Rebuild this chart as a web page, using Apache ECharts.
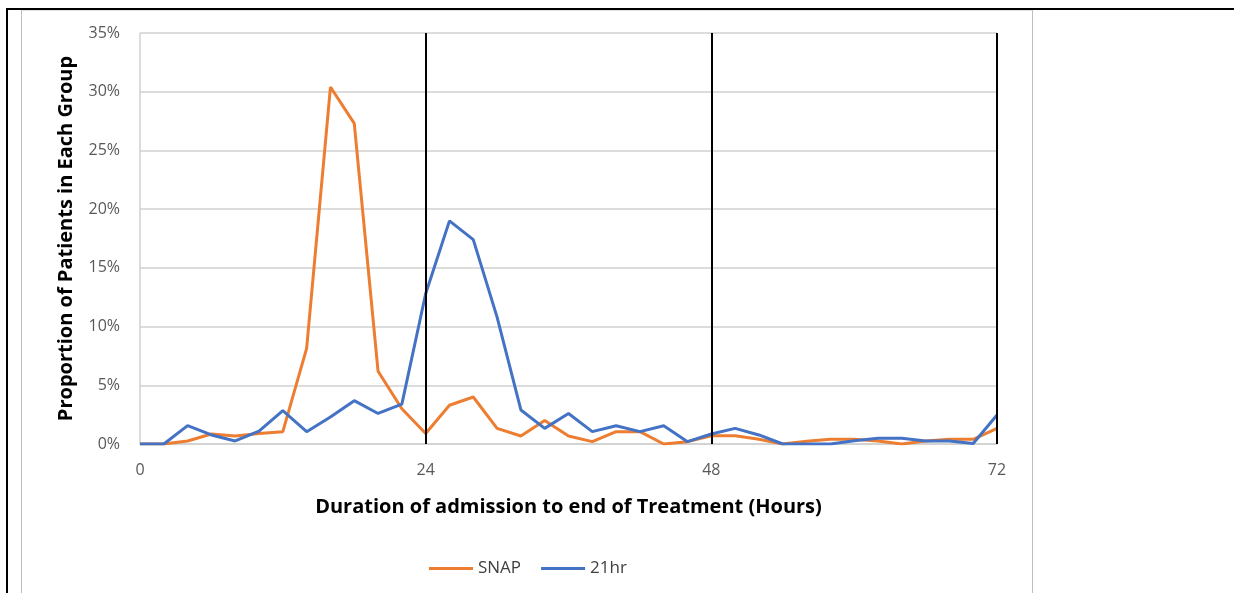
<!DOCTYPE html>
<html>
<head>
<meta charset="utf-8">
<title>SNAP vs 21hr</title>
<script src="https://cdn.jsdelivr.net/npm/echarts@6/dist/echarts.min.js"></script>
<style>
  html, body { margin: 0; padding: 0; background: #fff; }
  #chart { width: 1234px; height: 593px; }
</style>
</head>
<body>
<div id="chart"></div>
<script>
// hours since admission, one point every 2 h
const hours = [0, 2, 4, 6, 8, 10, 12, 14, 16, 18, 20, 22, 24, 26, 28, 30, 32, 34, 36,
  38, 40, 42, 44, 46, 48, 50, 52, 54, 56, 58, 60, 62, 64, 66, 68, 70, 72]
// proportion of patients (%)
const snap = [0, 0, 0.26, 0.85, 0.68, 0.9, 1.05, 8.15, 30.4, 27.3, 6.2, 3.0, 0.9, 3.3, 4.0, 1.33, 0.68, 2.0, 0.68,
  0.2, 1.05, 1.05, 0, 0.2, 0.7, 0.7, 0.4, 0, 0.23, 0.4, 0.4, 0.26, 0, 0.26, 0.4, 0.4, 1.33]
const hr21 = [0, 0, 1.56, 0.77, 0.26, 1.1, 2.84, 1.05, 2.3, 3.69, 2.6, 3.4, 12.8, 19.0, 17.4, 10.8, 2.9, 1.33, 2.6,
  1.05, 1.56, 1.05, 1.56, 0.2, 0.85, 1.33, 0.77, 0, 0, 0, 0.28, 0.48, 0.48, 0.26, 0.26, 0.05, 2.47]
// black reference lines (day boundaries)
const dayLines = [24, 48, 72]

const font = '"Open Sans", "Noto Sans", sans-serif'
const chart = echarts.init(document.getElementById('chart'))

const pairs = arr => hours.map((h, i) => [h, arr[i]])

const option = {
  animation: false,
  textStyle: { fontFamily: font },
  graphic: [
    // grey chart frame
    { type: 'rect', shape: { x: 21.5, y: 10, width: 1011, height: 600 },
      style: { fill: 'none', stroke: '#bfbfbf', lineWidth: 1 }, z: 0 },
    // black table borders
    { type: 'line', shape: { x1: 6, y1: 9, x2: 1234, y2: 9 },
      style: { stroke: '#000', lineWidth: 2 }, z: 1 },
    { type: 'line', shape: { x1: 7, y1: 8, x2: 7, y2: 593 },
      style: { stroke: '#000', lineWidth: 2 }, z: 1 }
  ],
  grid: { left: 140, right: 237, top: 33, bottom: 149 },
  legend: {
    left: 424,
    top: 555,
    icon: 'rect',
    itemWidth: 44,
    itemHeight: 3,
    itemGap: 20,
    textStyle: { fontSize: 17, color: '#404040', fontFamily: font },
    data: ['SNAP', '21hr']
  },
  xAxis: {
    type: 'value',
    min: 0,
    max: 72,
    interval: 24,
    name: 'Duration of admission to end of Treatment (Hours)',
    nameLocation: 'middle',
    nameGap: 53,
    nameTextStyle: { fontSize: 20, fontWeight: 'bold', color: '#000', fontFamily: font },
    axisLine: { show: true, lineStyle: { color: '#d0d0d0', width: 1.5 } },
    axisTick: { show: false },
    axisLabel: { color: '#595959', fontSize: 16, margin: 18 },
    splitLine: { show: true, lineStyle: { color: '#d0d0d0', width: 1.5 } }
  },
  yAxis: {
    type: 'value',
    min: 0,
    max: 35,
    interval: 5,
    name: 'Proportion of Patients in Each Group',
    nameLocation: 'middle',
    nameGap: 64,
    nameTextStyle: { fontSize: 20, fontWeight: 'bold', color: '#000', fontFamily: font },
    axisLine: { show: false },
    axisTick: { show: false },
    axisLabel: { color: '#595959', fontSize: 16, margin: 20, formatter: '{value}%' },
    splitLine: { show: true, lineStyle: { color: '#d0d0d0', width: 1.5 } }
  },
  series: [
    {
      name: 'SNAP',
      type: 'line',
      data: pairs(snap),
      showSymbol: false,
      color: '#ED7D31',
      lineStyle: { width: 3, color: '#ED7D31' }
    },
    {
      name: '21hr',
      type: 'line',
      data: pairs(hr21),
      showSymbol: false,
      color: '#4472C4',
      lineStyle: { width: 3, color: '#4472C4' },
      markLine: {
        silent: true,
        symbol: ['none', 'none'],
        label: { show: false },
        lineStyle: { color: '#000', width: 2, type: 'solid' },
        data: dayLines.map(h => ({ xAxis: h }))
      }
    }
  ]
}

chart.setOption(option)
</script>
</body>
</html>
